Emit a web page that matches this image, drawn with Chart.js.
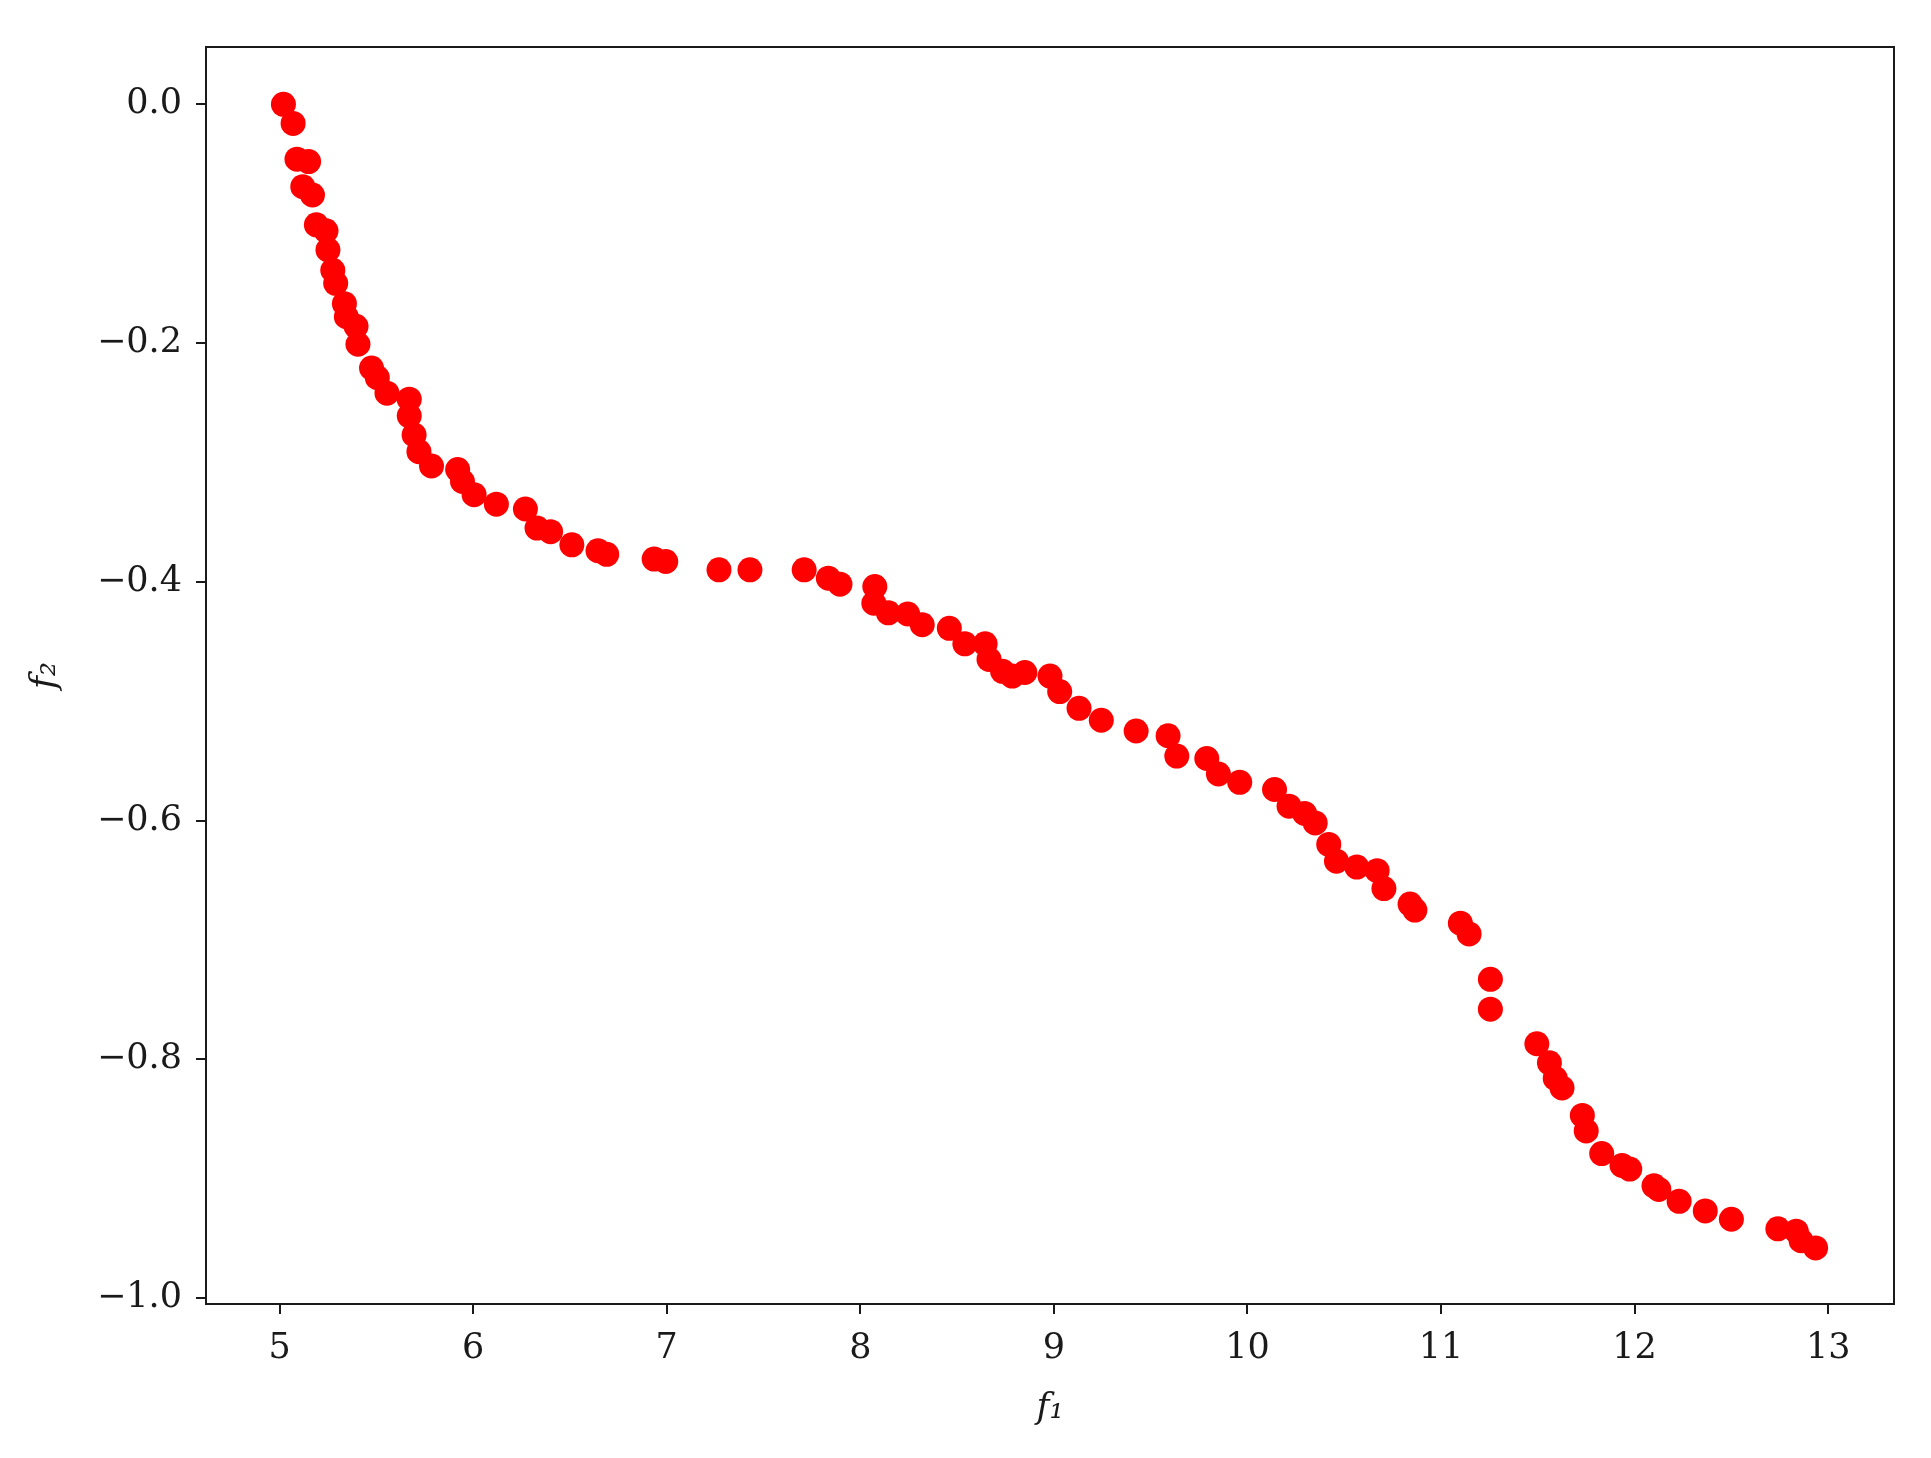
<!DOCTYPE html>
<html>
<head>
<meta charset="utf-8">
<script src="https://cdn.jsdelivr.net/npm/chart.js@4.4.1/dist/chart.umd.min.js"></script>
<style>
html,body{margin:0;padding:0;background:#fff;}
#wrap{width:1931px;height:1458px;position:relative;}
</style>
</head>
<body>
<div id="wrap"><canvas id="c" width="1931" height="1458"></canvas></div>
<script>
const f1 = [5.02,5.07,5.09,5.15,5.12,5.17,5.19,5.24,5.25,5.275,5.29,5.335,5.345,5.395,5.405,5.475,5.505,5.555,5.67,5.67,5.695,5.72,5.785,5.92,5.945,6.005,6.12,6.27,6.33,6.40,6.51,6.645,6.69,6.935,6.995,7.27,7.43,7.71,7.835,7.895,8.075,8.07,8.145,8.245,8.32,8.46,8.54,8.645,8.665,8.735,8.785,8.85,8.98,9.03,9.13,9.245,9.425,9.59,9.635,9.79,9.85,9.96,10.14,10.215,10.295,10.35,10.42,10.46,10.565,10.67,10.705,10.84,10.865,11.10,11.145,11.255,11.255,11.495,11.56,11.59,11.625,11.73,11.75,11.83,11.935,11.975,12.10,12.125,12.23,12.365,12.50,12.74,12.835,12.86,12.935];
const f2 = [0.000,-0.016,-0.046,-0.048,-0.069,-0.076,-0.101,-0.106,-0.122,-0.139,-0.150,-0.167,-0.178,-0.186,-0.201,-0.221,-0.229,-0.242,-0.247,-0.261,-0.277,-0.291,-0.303,-0.306,-0.316,-0.327,-0.335,-0.339,-0.355,-0.358,-0.369,-0.374,-0.377,-0.381,-0.383,-0.390,-0.390,-0.390,-0.397,-0.402,-0.404,-0.418,-0.426,-0.427,-0.436,-0.439,-0.452,-0.452,-0.465,-0.475,-0.479,-0.476,-0.479,-0.492,-0.506,-0.516,-0.525,-0.529,-0.546,-0.548,-0.561,-0.568,-0.574,-0.588,-0.594,-0.602,-0.620,-0.634,-0.639,-0.642,-0.657,-0.670,-0.675,-0.686,-0.695,-0.733,-0.758,-0.787,-0.803,-0.816,-0.824,-0.847,-0.860,-0.879,-0.889,-0.892,-0.906,-0.909,-0.919,-0.927,-0.934,-0.942,-0.944,-0.952,-0.958];
const xTickLabels = ['5','6','7','8','9','10','11','12','13'];
const yTickLabels = ['0.0','\u22120.2','\u22120.4','\u22120.6','\u22120.8','\u22121.0'];
const xTitle = 'f\u2081';
const yTitle = 'f\u2082';

const points = f1.map((x, i) => ({x: x, y: f2[i]}));

const frame = {
  id: 'frame',
  afterDraw(chart) {
    const a = chart.chartArea, ctx = chart.ctx;
    ctx.save();
    ctx.strokeStyle = '#1a1a1a';
    ctx.lineWidth = 2;
    ctx.strokeRect(a.left, a.top, a.right - a.left, a.bottom - a.top);
    ctx.restore();
  }
};

const tickFont = {family: 'DejaVu Serif', size: 35};
const titleFont = {family: 'DejaVu Serif', size: 35, style: 'italic'};
new Chart(document.getElementById('c'), {
  type: 'scatter',
  data: {datasets: [{data: points, backgroundColor: '#ff0000', borderColor: '#ff0000', pointRadius: 12.5, pointHoverRadius: 12.5, borderWidth: 0}]},
  options: {
    responsive: false,
    animation: false,
    events: [],
    layout: {padding: {top: 47, right: 37, left: 0, bottom: 0}},
    plugins: {legend: {display: false}, tooltip: {enabled: false}},
    scales: {
      x: {
        type: 'linear', min: 4.62, max: 13.34,
        border: {display: true, color: '#1a1a1a', width: 2},
        grid: {display: true, drawOnChartArea: false, drawTicks: true, tickLength: 10, color: '#1a1a1a', lineWidth: 2},
        ticks: {stepSize: 1, includeBounds: false, color: '#1a1a1a', font: tickFont, padding: 14,
          callback: (v) => { const i = Math.round(v) - 5; return (Math.abs(v - Math.round(v)) < 1e-6 && xTickLabels[i] !== undefined) ? xTickLabels[i] : ''; }},
        title: {display: true, text: xTitle, color: '#1a1a1a', font: titleFont, padding: {top: 4, bottom: 28}},
        afterFit: (s) => { s.height = 154; }
      },
      y: {
        type: 'linear', min: -1.005, max: 0.048,
        border: {display: true, color: '#1a1a1a', width: 2},
        grid: {display: true, drawOnChartArea: false, drawTicks: true, tickLength: 10, color: '#1a1a1a', lineWidth: 2},
        ticks: {stepSize: 0.2, includeBounds: false, color: '#1a1a1a', font: tickFont, padding: 14,
          callback: (v) => { const i = Math.round(-v / 0.2); return (Math.abs(-v / 0.2 - i) < 1e-6 && yTickLabels[i] !== undefined) ? yTickLabels[i] : ''; }},
        title: {display: true, text: yTitle, color: '#1a1a1a', font: titleFont, padding: {top: 25, bottom: 0}},
        afterFit: (s) => { s.width = 206; }
      }
    }
  },
  plugins: [frame]
});
</script>
</body>
</html>
